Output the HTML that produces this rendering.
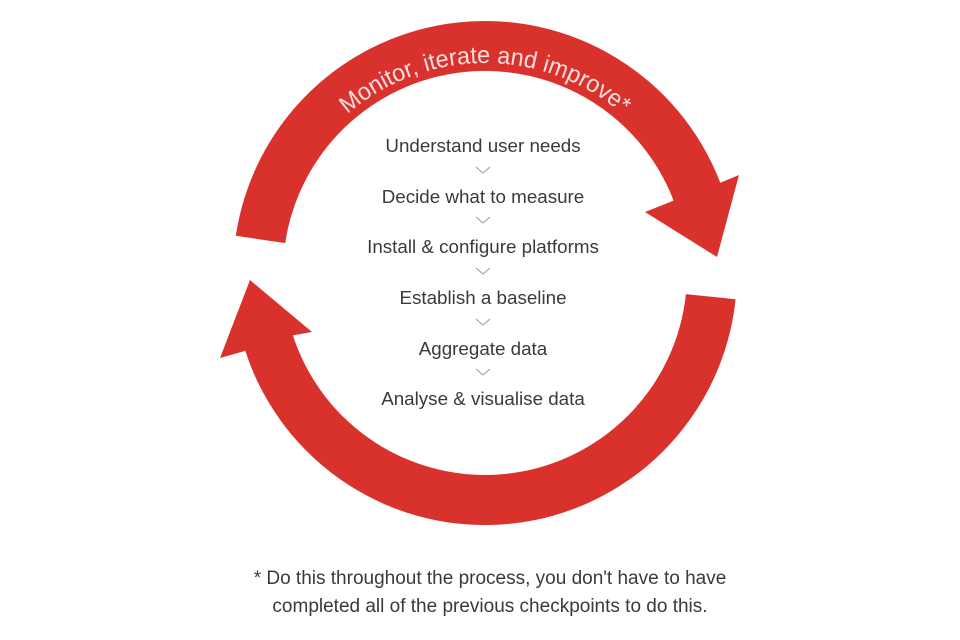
<!DOCTYPE html>
<html><head><meta charset="utf-8"><style>
html,body{margin:0;padding:0;background:#fff;}
svg{display:block;}
</style></head><body>
<svg width="960" height="640" viewBox="0 0 960 640" xmlns="http://www.w3.org/2000/svg">
<defs><path id="tp" d="M275,273 A210,210 0 0 1 695,273"/></defs>
<path fill="#d9322d" d="M235.8,235.8 A252,252 0 0 1 720.3,182.7 L739,175 L717,257 L645,212 L673.6,200.6 A202,202 0 0 0 285.2,243.1 Z"/>
<path fill="#d9322d" d="M735.6,299.3 A252,252 0 0 1 245.3,350.9 L220,358 L250,280 L312,332 L292.9,335.4 A202,202 0 0 0 685.9,294.1 Z"/>
<text font-family="Liberation Sans, sans-serif" font-size="24" fill="#f8dede" text-anchor="middle"><textPath href="#tp" startOffset="50%" textLength="300" lengthAdjust="spacingAndGlyphs">Monitor, iterate and improve*</textPath></text>
<g font-family="Liberation Sans, sans-serif" font-size="18.8" fill="#3a3a3a" text-anchor="middle">
<text x="483" y="152">Understand user needs</text>
<text x="483" y="203">Decide what to measure</text>
<text x="483" y="253">Install &amp; configure platforms</text>
<text x="483" y="304">Establish a baseline</text>
<text x="483" y="355">Aggregate data</text>
<text x="483" y="405">Analyse &amp; visualise data</text>
</g>
<g fill="none" stroke="#999" stroke-width="1">
<polyline points="476,167 483,173 490,167"/>
<polyline points="476,217 483,223 490,217"/>
<polyline points="476,268 483,274 490,268"/>
<polyline points="476,319 483,325 490,319"/>
<polyline points="476,369 483,375 490,369"/>
</g>
<g font-family="Liberation Sans, sans-serif" font-size="19" fill="#3a3a3a" text-anchor="middle">
<text x="490" y="584">* Do this throughout the process, you don't have to have</text>
<text x="490" y="612">completed all of the previous checkpoints to do this.</text>
</g>
</svg>
</body></html>
